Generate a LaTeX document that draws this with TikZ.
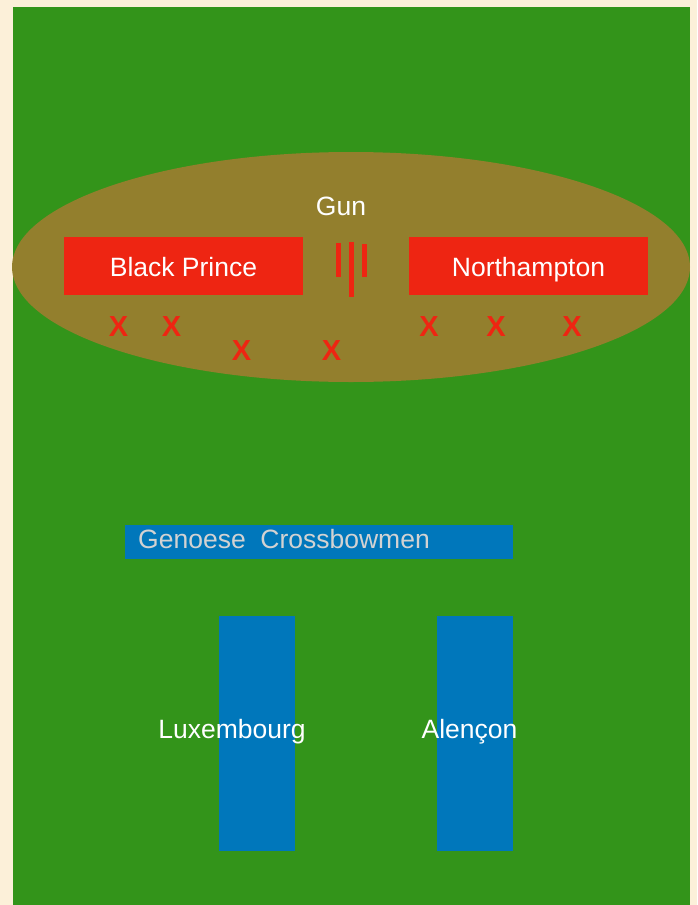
\documentclass[tikz,border=0pt]{standalone}
\usepackage{fontspec}
\setmainfont{Liberation Sans}
\usetikzlibrary{shapes.geometric}
\definecolor{cream}{HTML}{FCF0D9}
\definecolor{field}{HTML}{33941A}
\definecolor{ochre}{HTML}{937F2D}
\definecolor{armyred}{HTML}{EE2512}
\definecolor{armyblue}{HTML}{0077BB}
\definecolor{lightgray}{HTML}{D2D2D2}
\tikzset{
  english/.style={fill=armyred, draw=none, inner sep=0pt, minimum width=239pt, minimum height=58pt},
  french/.style={fill=armyblue, draw=none, inner sep=0pt},
  label/.style={text=white, inner sep=0pt, anchor=base, font=\fontsize{26.5}{30}\selectfont},
  archer/.style={text=armyred, inner sep=0pt, anchor=base, font=\fontsize{29}{33}\selectfont\bfseries},
  gunbar/.style={fill=armyred, draw=none}
}
\begin{document}
\begin{tikzpicture}[x=1pt,y=-1pt]
\useasboundingbox (0,0) rectangle (697,905);
\fill[cream] (0,0) rectangle (697,905);
\fill[field] (13,7) rectangle (690,905);
\node[ellipse, fill=ochre, draw=none, minimum width=678pt, minimum height=230pt, inner sep=0pt] (hill) at (351,267) {};
\node[english] (prince) at (183.5,266) {};
\node[label] (princelabel) at (183.5,276) {Black Prince};
\node[english] (north) at (528.5,266) {};
\node[label] (northlabel) at (528.5,276) {Northampton};
\node[label] (gun) at (341,215) {Gun};
\fill[gunbar] (336,243) rectangle (341,277);
\fill[gunbar] (349,242) rectangle (354,297);
\fill[gunbar] (362,244) rectangle (367,277);
\node[archer] (x1) at (118.5,336) {X};
\node[archer] (x2) at (171.5,336) {X};
\node[archer] (x3) at (241.5,360) {X};
\node[archer] (x4) at (331.5,360) {X};
\node[archer] (x5) at (429,336) {X};
\node[archer] (x6) at (496,336) {X};
\node[archer] (x7) at (572,336) {X};
\node[french, minimum width=388pt, minimum height=34pt] (genoese) at (319,542) {};
\node[text=lightgray, inner sep=0pt, anchor=base west, font=\fontsize{26.5}{30}\selectfont] (genlabel) at (138,548) {Genoese\ \ Crossbowmen};
\node[french, minimum width=76pt, minimum height=235pt] (lux) at (257,733.5) {};
\node[french, minimum width=76pt, minimum height=235pt] (alen) at (475,733.5) {};
\node[label] (luxlabel) at (232,738) {Luxembourg};
\node[label] (alenlabel) at (469.5,738) {Alençon};
\end{tikzpicture}
\end{document}
